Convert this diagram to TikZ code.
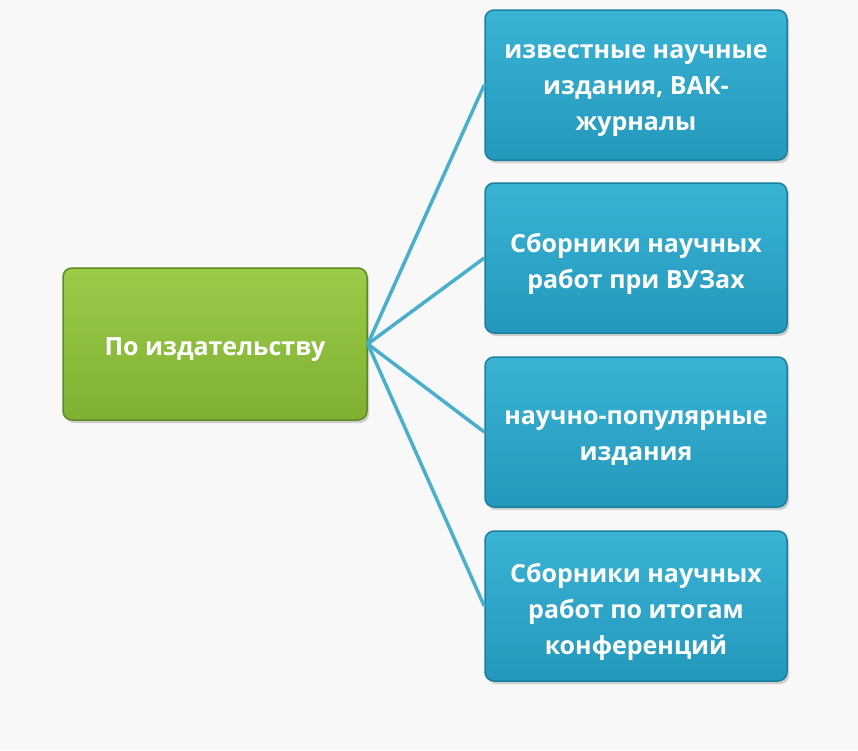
\documentclass[tikz,border=0pt]{standalone}
\usepackage{fontspec}
\setmainfont{Open Sans}
\usetikzlibrary{shadows}
\definecolor{bg}{HTML}{F8F8F8}
\definecolor{gtop}{HTML}{9CCB4A}
\definecolor{gbot}{HTML}{80B032}
\definecolor{gline}{HTML}{5E8A22}
\definecolor{btop}{HTML}{3AB3D5}
\definecolor{bbot}{HTML}{2398BC}
\definecolor{bline}{HTML}{1B7F9E}
\definecolor{conn}{HTML}{4AAFCB}
\tikzset{
  box/.style={rounded corners=9pt, draw, line width=1.5pt,
    drop shadow={shadow xshift=2pt, shadow yshift=-3pt, opacity=0.35}},
  greenbox/.style={box, draw=gline, top color=gtop, bottom color=gbot,
    minimum width=304pt, minimum height=152pt},
  bluebox/.style={box, draw=bline, top color=btop, bottom color=bbot,
    minimum width=302pt, minimum height=150pt},
  boxtext/.style={align=center, text=white, font=\bfseries\fontsize{25}{36}\selectfont,
    inner sep=0pt, yshift=-6pt},
  connector/.style={draw=conn, line width=3.5pt}
}
\begin{document}
\begin{tikzpicture}[x=1pt,y=-1pt]
\fill[bg] (0,0) rectangle (858,750);
\useasboundingbox (0,0) rectangle (858,750);
\node[greenbox] (root) at (215,344) {};
\node[bluebox] (b1) at (636,85) {};
\node[bluebox] (b2) at (636,258) {};
\node[bluebox] (b3) at (636,432) {};
\node[bluebox] (b4) at (636,606) {};
\node[boxtext] (roott) at (root.center) {По издательству};
\node[boxtext] (b1t) at (b1.center) {известные научные\\издания, ВАК-\\журналы};
\node[boxtext] (b2t) at (b2.center) {Сборники научных\\работ при ВУЗах};
\node[boxtext] (b3t) at (b3.center) {научно-популярные\\издания};
\node[boxtext] (b4t) at (b4.center) {Сборники научных\\работ по итогам\\конференций};
\foreach \b in {b1,b2,b3,b4}
  \draw[connector] (root.east) -- (\b.west);
\end{tikzpicture}
\end{document}
